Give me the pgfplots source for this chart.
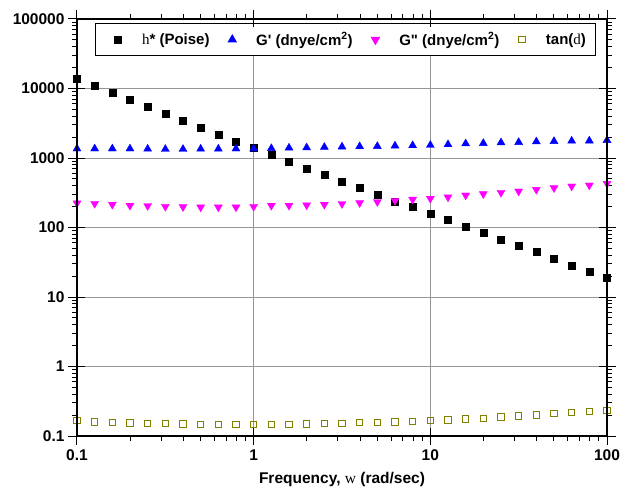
\documentclass[border=0pt]{standalone}
\usepackage{fontspec}
\setmainfont{Liberation Sans}
\newfontfamily\tnr{Liberation Serif}
\usepackage{pgfplots}
\pgfplotsset{compat=1.18}
\usepackage{pgfplotstable}

\definecolor{olivec}{RGB}{128,128,0}
\definecolor{gridc}{RGB}{150,150,150}
\definecolor{magc}{RGB}{255,0,255}
\definecolor{bluec}{RGB}{0,0,255}

\pgfplotstableread{
x eta Gp Gpp tand
0.1 13900 1360 224 0.167
0.1259 10900 1360 221 0.160
0.1585 8770 1360 214 0.156
0.1995 6800 1360 207 0.153
0.2512 5390 1350 205 0.151
0.3162 4280 1340 200 0.150
0.3981 3400 1340 198 0.148
0.5012 2690 1350 196 0.146
0.6310 2140 1350 196 0.146
0.7943 1710 1360 196 0.145
1 1390 1360 200 0.145
1.259 1100 1375 207 0.146
1.585 885 1400 207 0.146
1.995 712 1410 210 0.148
2.512 570 1435 214 0.150
3.162 463 1450 219 0.151
3.981 372 1465 226 0.155
5.012 300 1475 234 0.156
6.310 239 1500 244 0.160
7.943 196 1515 253 0.163
10 159 1530 261 0.167
12.59 128 1565 273 0.171
15.85 103 1610 291 0.175
19.95 84 1630 304 0.180
25.12 67 1665 318 0.187
31.62 54.6 1685 332 0.195
39.81 44.4 1720 351 0.201
50.12 35.6 1740 371 0.210
63.10 28.5 1760 392 0.218
79.43 22.9 1770 405 0.227
100 18.8 1800 428 0.233
}\data

\begin{document}
\begin{tikzpicture}
\path (-77pt,-55pt) rectangle (551pt,436pt);
\begin{axis}[
  at={(0,0)}, anchor=south west,
  scale only axis, width=530pt, height=417pt,
  xmode=log, ymode=log,
  xmin=0.1, xmax=100, ymin=0.1, ymax=100000,
  xtick={0.1,1,10,100}, xticklabels={0.1,1,10,100},
  ytick={0.1,1,10,100,1000,10000,100000},
  yticklabels={0.1,1,10,100,1000,10000,100000},
  tick align=outside,
  major tick length=9pt, minor tick length=5pt,
  every tick/.style={black, line width=1pt},
  axis line style={black, line width=1.5pt},
  xmajorgrids, ymajorgrids,
  major grid style={gridc, line width=1pt},
  ticklabel style={font=\fontsize{15.5}{18}\selectfont\bfseries},
  xticklabel style={yshift=-1pt},
  xlabel={Frequency, {\tnr\mdseries w} (rad/sec)},
  xlabel style={font=\fontsize{15.5}{18}\selectfont\bfseries, yshift=-5pt},
  legend columns=4,
  legend style={at={(0.507,0.990)}, anchor=north, draw=black, line width=1pt,
    font=\fontsize{15}{18}\selectfont\bfseries, inner xsep=8pt, inner ysep=7pt,
    /tikz/every even column/.append style={column sep=6pt}},
  legend image code/.code={\path (0cm,0cm) (1.25cm,0cm); \draw[#1] plot[only marks] coordinates {(0.5cm,0cm)};},
]
\addplot[only marks, mark=square*, mark size=3.5pt, draw=black, fill=black] table[x=x,y=eta] {\data};
\addplot[only marks, mark=triangle*, mark size=4.6pt, draw=bluec, fill=bluec] table[x=x,y=Gp] {\data};
\addplot[only marks, mark=triangle*, mark size=4.6pt, mark options={rotate=180}, draw=magc, fill=magc] table[x=x,y=Gpp] {\data};
\addplot[only marks, mark=square, mark size=3.2pt, draw=olivec, line width=1pt] table[x=x,y=tand] {\data};
\legend{{\tnr\mdseries h}* (Poise), G\textquotesingle{} (dnye/cm\textsuperscript{2}), G\textquotedbl{} (dnye/cm\textsuperscript{2}), tan({\tnr\mdseries d})}
\end{axis}
\begin{axis}[
  at={(0,0)}, anchor=south west,
  scale only axis, width=530pt, height=417pt,
  xmode=log, ymode=log,
  xmin=0.1, xmax=100, ymin=0.1, ymax=100000,
  xtick={0.1,1,10,100}, xticklabels={},
  ytick={0.1,1,10,100,1000,10000,100000}, yticklabels={},
  xminorticks=false, yminorticks=false,
  tick align=inside, major tick length=8pt,
  every tick/.style={black, line width=1pt},
  axis line style={black, line width=1.5pt},
]
\end{axis}
\end{tikzpicture}
\end{document}
